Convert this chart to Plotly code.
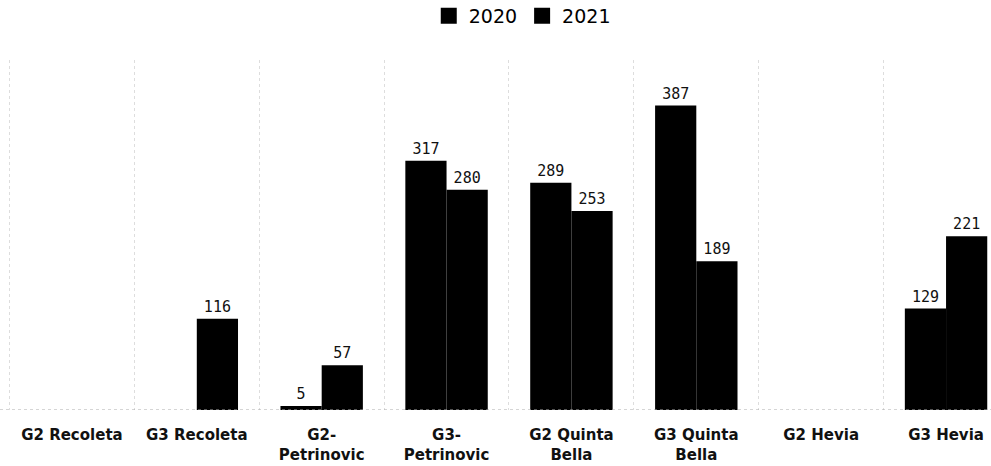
import plotly.graph_objects as go

categories = ["G2 Recoleta", "G3 Recoleta", "G2-<br>Petrinovic", "G3-<br>Petrinovic",
              "G2 Quinta<br>Bella", "G3 Quinta<br>Bella", "G2 Hevia", "G3 Hevia"]
series = ["2020", "2021"]
v2020 = [None, None, 5, 317, 289, 387, None, 129]
v2021 = [None, 116, 57, 280, 253, 189, None, 221]

fig = go.Figure()
for name, vals in zip(series, [v2020, v2021]):
    fig.add_trace(go.Bar(
        x=categories, y=vals, name=name, showlegend=False,
        marker=dict(color="black", line=dict(width=0)),
        text=[("" if v is None else str(v)) for v in vals],
        textposition="outside", cliponaxis=False,
        textfont=dict(family="DejaVu Sans Mono", size=15, color="#111"),
    ))
    # legend entry with a bigger square swatch
    fig.add_trace(go.Scatter(
        x=[None], y=[None], mode="markers", name=name,
        marker=dict(symbol="square", size=22, color="black"),
    ))

fig.add_shape(type="line", xref="paper", yref="y", x0=0, x1=1, y0=0, y1=0,
              line=dict(color="#aaaaaa", width=1, dash="dot"))

fig.update_layout(
    width=991, height=466,
    margin=dict(l=0, r=0, t=60, b=56, autoexpand=False),
    barmode="group", bargap=0.34, bargroupgap=0,
    plot_bgcolor="white", paper_bgcolor="white",
    showlegend=True,
    legend=dict(orientation="h", x=0.527, xanchor="center", y=1.18, yanchor="top",
                font=dict(family="DejaVu Sans", size=19, color="black"),
                itemsizing="trace", traceorder="normal"),
    xaxis=dict(range=[-0.576, 7.36], tickson="boundaries", showgrid=True,
               gridcolor="#dddddd", griddash="dot", gridwidth=1,
               showline=False, zeroline=False,
               ticks="", ticklabelstandoff=14,
               tickfont=dict(family="DejaVu Sans", size=15, color="#111", weight="bold")),
    yaxis=dict(range=[0, 445], visible=False, showgrid=False, zeroline=False),
)

fig.write_html("out.html", config={"displayModeBar": False},
               post_script="document.body.style.margin='0';")
